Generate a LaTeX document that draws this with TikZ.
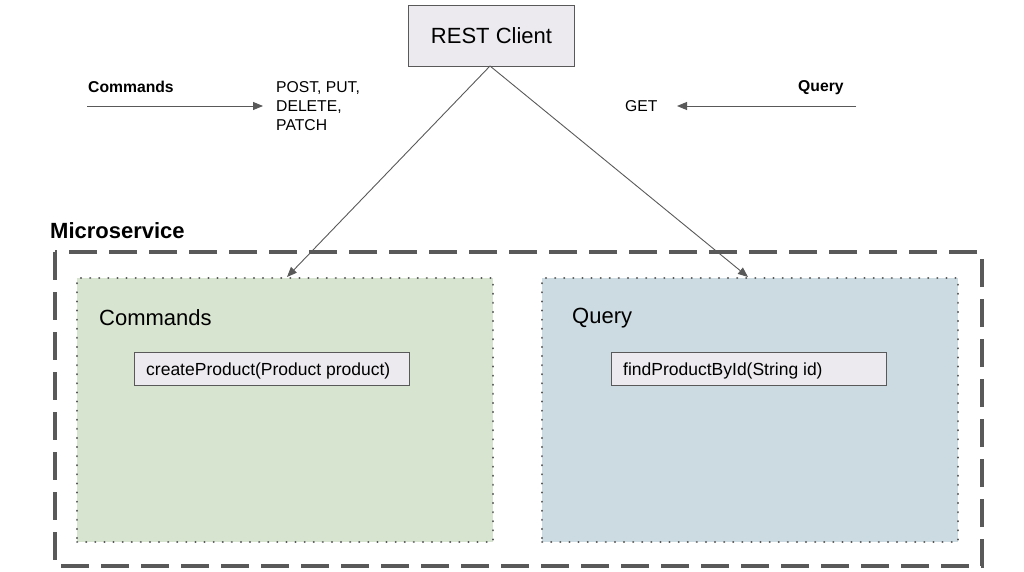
\documentclass[tikz,border=0pt]{standalone}
\usepackage{fontspec}
\setmainfont{Liberation Sans}
\usetikzlibrary{arrows.meta}
\definecolor{boxgray}{HTML}{ECEAEE}
\definecolor{linegray}{HTML}{595959}
\definecolor{greenfill}{HTML}{D7E4CF}
\definecolor{bluefill}{HTML}{CBDBE1}
\tikzset{
  graybox/.style={draw=linegray, line width=1pt, fill=boxgray, inner sep=0pt, anchor=north west},
  area/.style={draw=linegray, line width=2.2pt, dash pattern=on 0.1pt off 9pt, line cap=round, anchor=north west, inner sep=0pt},
  conn/.style={draw=linegray, line width=0.9pt, -{Triangle[length=10pt,width=8pt]}},
  lbl/.style={inner sep=0pt, anchor=base west, text=black}
}
\begin{document}
\begin{tikzpicture}[x=1pt,y=-1pt]
\useasboundingbox (0,0) rectangle (1024,572);
% REST client
\node[graybox, minimum width=166pt, minimum height=61pt] (rest) at (408,5) {};
\node[font=\fontsize{22}{26}\selectfont] at (rest.center) {REST Client};
% Microservice
\node[lbl, font=\fontsize{22}{26}\selectfont\bfseries] (ms) at (50,238) {Microservice};
\draw[draw=linegray, line width=3.5pt, dash pattern=on 28pt off 12pt] (55,252) rectangle (982,566);
\coordinate (msbox) at (55,252);
% areas
\node[area, fill=greenfill, minimum width=416pt, minimum height=264pt] (cmd) at (76,277) {};
\node[area, fill=bluefill, minimum width=416pt, minimum height=264pt] (qry) at (541,277) {};
\node[lbl, font=\fontsize{22}{26}\selectfont] (cmdt) at (99,325) {Commands};
\node[lbl, font=\fontsize{22}{26}\selectfont] (qryt) at (572,323) {Query};
\node[graybox, minimum width=275pt, minimum height=33pt] (cp) at (134,352) {};
\node[lbl, font=\fontsize{17.5}{21}\selectfont] at (146,375) {createProduct(Product product)};
\node[graybox, minimum width=275pt, minimum height=33pt] (fp) at (611,352) {};
\node[lbl, font=\fontsize{17.5}{21}\selectfont] at (623,375) {findProductById(String id)};
% legend
\node[lbl, font=\fontsize{15.7}{19}\selectfont\bfseries] (lc) at (88,93) {Commands};
\node[lbl, font=\fontsize{15.7}{19}\selectfont, align=left, anchor=north west] (post) at (276,81) {POST, PUT,\\ DELETE,\\ PATCH};
\node[lbl, font=\fontsize{15.7}{19}\selectfont\bfseries] (lq) at (798,92) {Query};
\node[lbl, font=\fontsize{15.7}{19}\selectfont] (get) at (625,112) {GET};
\coordinate (c1) at (87,106);
\coordinate (c2) at (263,106);
\coordinate (q1) at (856,106);
\coordinate (q2) at (677,106);
\draw[conn] (c1) -- (c2);
\draw[conn] (q1) -- (q2);
% connectors
\coordinate (top) at (490,66);
\coordinate (ca) at (287,277);
\coordinate (qa) at (748,277);
\draw[conn] (top) -- (ca);
\draw[conn] (top) -- (qa);
\end{tikzpicture}
\end{document}
